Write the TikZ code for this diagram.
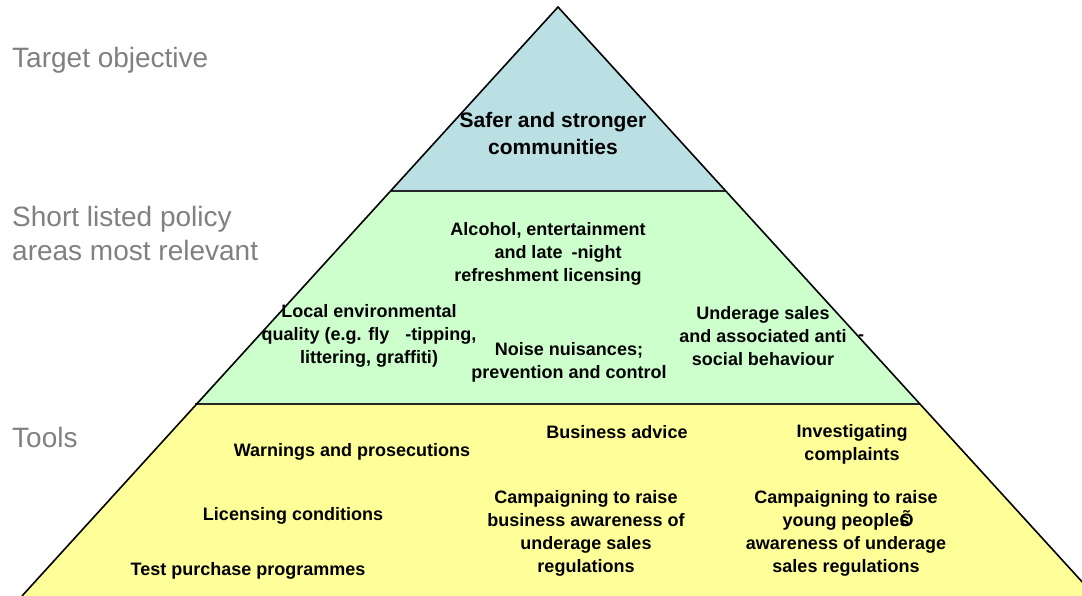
\documentclass[tikz,border=0pt]{standalone}
\usepackage{fontspec}
\setmainfont{Liberation Sans}
\definecolor{topc}{RGB}{187,224,227}
\definecolor{midc}{RGB}{204,255,204}
\definecolor{botc}{RGB}{255,255,153}
\definecolor{lblc}{RGB}{128,128,128}
\tikzset{
  lbl/.style={anchor=base west, inner sep=0pt, text=lblc, font=\fontsize{28}{34}\selectfont, align=left},
  txt/.style={inner sep=0pt, align=center, font=\bfseries\fontsize{18}{23}\selectfont},
  bigtxt/.style={inner sep=0pt, align=center, font=\bfseries\fontsize{21}{27}\selectfont},
  edge/.style={draw=black, line width=1.6pt, line join=miter},
  band/.style={draw=black!85, line width=1.6pt}
}
\begin{document}
\begin{tikzpicture}[x=1pt,y=-1pt]
\useasboundingbox (0,0) rectangle (1082,596);
\clip (0,0) rectangle (1082,596);
\coordinate (apex) at (558,7);
\coordinate (l1) at (391,191);
\coordinate (r1) at (725,191);
\coordinate (l2) at (195,404);
\coordinate (r2) at (920,404);
\coordinate (l3) at (22,596);
\coordinate (r3) at (1095,596);
\fill[topc] (apex) -- (r1) -- (l1) -- cycle;
\fill[midc] (l1) -- (r1) -- (r2) -- (l2) -- cycle;
\fill[botc] (l2) -- (r2) -- (r3) -- (l3) -- cycle;
\draw[band] (l1) -- (r1);
\draw[band] (l2) -- (r2);
\draw[edge] (l3) -- (apex) -- (r3);
% left labels
\node[lbl] (t1) at (12,68) {Target objective};
\node[lbl] (t2) at (12,261) {Short listed policy\\areas most relevant};
\node[lbl] (t3) at (12,447) {Tools};
% top
\node[bigtxt] (safer) at (553,133) {Safer and stronger\\communities};
% middle
\node[txt] (alc) at (548,254) {Alcohol, entertainment\\\hspace{20pt}and late\hspace{9pt}-night\\refreshment licensing};
\node[txt] (local) at (369,336) {Local environmental\\quality (e.g. fly\hspace{16pt}-tipping,\\littering, graffiti)};
\node[txt] (noise) at (569,362) {Noise nuisances;\\prevention and control};
\node[txt] (under) at (763,336) {Underage sales\\and associated anti\\social behaviour};
\node[txt] (dash) at (861,338) {-};
% bottom
\node[txt] (warn) at (352,452) {Warnings and prosecutions};
\node[txt] (lic) at (293,516) {Licensing conditions};
\node[txt] (test) at (248,571) {Test purchase programmes};
\node[txt] (biz) at (617,432) {Business advice};
\node[txt] (inv) at (852,444) {Investigating\\complaints};
\node[txt] (camp1) at (586,533) {Campaigning to raise\\business awareness of\\underage sales\\regulations};
\node[txt] (camp2) at (846,533) {Campaigning to raise\\young people\makebox[0pt][l]{Õ}s\\awareness of underage\\sales regulations};
\end{tikzpicture}
\end{document}
